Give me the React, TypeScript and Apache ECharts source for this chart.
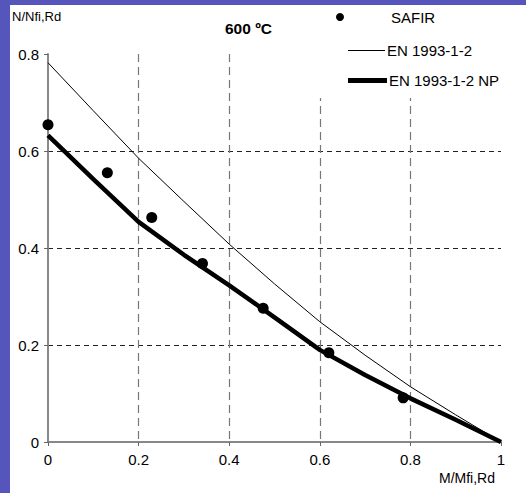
import React, { useEffect, useRef } from 'react';
import * as echarts from 'echarts';

const safirX = [0, 0.131, 0.229, 0.341, 0.475, 0.62, 0.784];
const safirY = [0.654, 0.555, 0.463, 0.368, 0.276, 0.184, 0.091];
const curveX = [0, 0.1, 0.2, 0.3, 0.4, 0.5, 0.6, 0.7, 0.8, 0.9, 1.0];
const enY = [0.782, 0.683, 0.585, 0.496, 0.408, 0.326, 0.248, 0.179, 0.114, 0.056, 0];
const npY = [0.632, 0.542, 0.454, 0.386, 0.323, 0.257, 0.19, 0.138, 0.09, 0.046, 0];
const seriesNames = ['SAFIR', 'EN 1993-1-2', 'EN 1993-1-2 NP'];
const titleText = '600 ºC';
const xName = 'M/Mfi,Rd';
const yName = 'N/Nfi,Rd';

const FONT = '"Liberation Sans", Arial, sans-serif';

export default function App() {
  const ref = useRef<HTMLDivElement>(null);
  useEffect(() => {
    if (!ref.current) return;
    const chart = echarts.init(ref.current, null, { renderer: 'svg' });
    const axisGray = '#666';
    const lineLegend = (name: string, top: number, h: number, w: number) => ({
      data: [{ name, icon: 'rect' }],
      left: 338,
      top,
      padding: 0,
      itemWidth: w,
      itemHeight: h,
      textStyle: { fontSize: 15, fontFamily: FONT, color: '#000', lineHeight: 14, padding: [0, 0, 0, -3] },
      z: 10,
    });
    chart.setOption({
      animation: false,
      backgroundColor: '#fff',
      textStyle: { fontFamily: FONT },
      grid: { left: 38, top: 49, right: 25, bottom: 51 },
      legend: [
        {
          data: [seriesNames[0]],
          left: 326,
          top: 4,
          padding: 0,
          itemWidth: 8,
          itemHeight: 8,
          icon: 'circle',
          textStyle: { fontSize: 15, fontFamily: FONT, color: '#000', padding: [0, 0, 0, 42], lineHeight: 16 },
          z: 10,
        },
        lineLegend(seriesNames[1], 38, 1, 37),
        lineLegend(seriesNames[2], 68, 5, 39),
      ],
      xAxis: [
        {
          type: 'value',
          min: 0,
          max: 1,
          interval: 0.2,
          axisLine: { show: true, lineStyle: { color: axisGray, width: 1.5 } },
          axisTick: { show: true, length: 4, lineStyle: { color: axisGray } },
          axisLabel: { fontSize: 15, color: '#000', margin: 10, fontFamily: FONT },
          splitLine: {
            show: true,
            showMinLine: false,
            showMaxLine: false,
            lineStyle: { color: '#777', type: [8, 5], width: 1.2 },
          },
        },
        {
          type: 'value',
          position: 'top',
          min: 0,
          max: 1,
          axisLine: { show: true, lineStyle: { color: '#888', width: 1.5 } },
          axisTick: { show: false },
          axisLabel: { show: false },
          splitLine: { show: false },
        },
      ],
      yAxis: [
        {
          type: 'value',
          min: 0,
          max: 0.8,
          interval: 0.2,
          axisLine: { show: true, lineStyle: { color: axisGray, width: 1.5 } },
          axisTick: { show: true, length: 4, lineStyle: { color: axisGray } },
          axisLabel: { fontSize: 15, color: '#000', margin: 9, fontFamily: FONT },
          splitLine: {
            show: true,
            showMinLine: false,
            showMaxLine: false,
            lineStyle: { color: '#222', type: [5, 4], width: 1 },
          },
        },
        {
          type: 'value',
          position: 'right',
          min: 0,
          max: 0.8,
          axisLine: { show: true, lineStyle: { color: '#888', width: 1.5 } },
          axisTick: { show: false },
          axisLabel: { show: false },
          splitLine: { show: false },
        },
      ],
      graphic: [
        {
          type: 'rect',
          z: 5,
          shape: { x: 302, y: 0, width: 214, height: 93 },
          style: { fill: '#fff' },
        },
        {
          type: 'text',
          z: 6,
          left: 2,
          top: 5,
          style: { text: yName, fontSize: 13, fontFamily: FONT, fill: '#000' },
        },
        {
          type: 'text',
          z: 6,
          left: 215,
          top: 15,
          style: { text: titleText, fontSize: 15.5, fontWeight: 'bold', fontFamily: FONT, fill: '#000' },
        },
        {
          type: 'text',
          z: 6,
          left: 429,
          top: 466,
          style: { text: xName, fontSize: 14, fontFamily: FONT, fill: '#000' },
        },
      ],
      series: [
        {
          name: seriesNames[1],
          type: 'line',
          symbol: 'none',
          z: 3,
          lineStyle: { color: '#000', width: 1 },
          itemStyle: { color: '#000' },
          data: curveX.map((x, i) => [x, enY[i]]),
        },
        {
          name: seriesNames[2],
          type: 'line',
          symbol: 'none',
          z: 3,
          lineStyle: { color: '#000', width: 4.5 },
          itemStyle: { color: '#000' },
          data: curveX.map((x, i) => [x, npY[i]]),
        },
        {
          name: seriesNames[0],
          type: 'scatter',
          symbol: 'circle',
          symbolSize: 11,
          z: 4,
          itemStyle: { color: '#000', opacity: 1 },
          data: safirX.map((x, i) => [x, safirY[i]]),
        },
      ],
    });
    return () => chart.dispose();
  }, []);
  return (
    <div style={{ position: 'fixed', left: 0, top: 0, width: 526, height: 493, background: '#5555bb' }}>
      <div ref={ref} style={{ position: 'absolute', left: 10, top: 5, width: 516, height: 488 }} />
    </div>
  );
}
